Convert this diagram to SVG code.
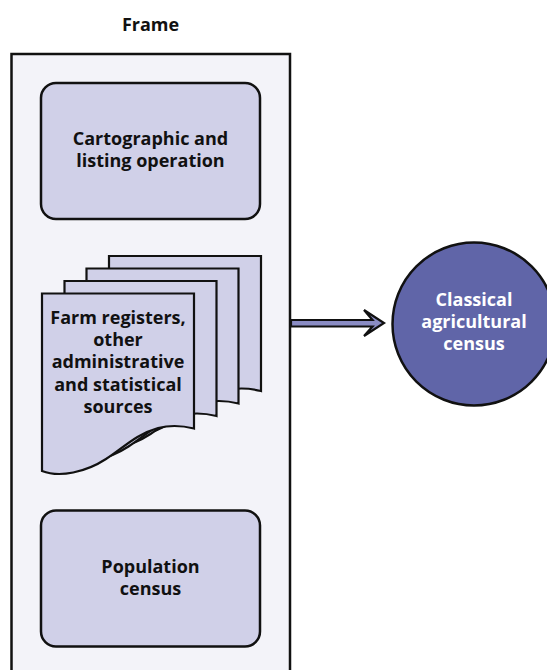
<svg xmlns="http://www.w3.org/2000/svg" width="547" height="670" viewBox="0 0 547 670">
<style>
text{font-family:"Open Sans","Noto Sans","Liberation Sans",sans-serif;font-weight:700;font-size:18px;text-anchor:middle;fill:#111}
.box{fill:#d0d0e8;stroke:#111;stroke-width:2.5}
.doc{fill:#d0d0e8;stroke:#111;stroke-width:2.2;stroke-linejoin:miter}
</style>
<defs>
<path id="page" class="doc" d="M42 293.500H194V428.500C182 425.500 170 425 158 428C136 434 122 449 106 459C86 472 60 478 42 471Z"/>
</defs>
<rect width="547" height="670" fill="#fff"/>
<g id="frame">
<rect x="11.500" y="54" width="278.500" height="630" fill="#f3f3f9" stroke="#111" stroke-width="2.500"/>
<text x="150.500" y="31">Frame</text>
</g>
<g id="cartographic">
<rect class="box" x="41" y="83" width="219" height="136" rx="15"/>
<text x="150.500" y="145">Cartographic and</text>
<text x="150.500" y="167">listing operation</text>
</g>
<g id="registers">
<use href="#page" x="67" y="-37.500"/>
<use href="#page" x="44.500" y="-25"/>
<use href="#page" x="22.500" y="-12.500"/>
<use href="#page"/>
<text x="118" y="324">Farm registers,</text>
<text x="118" y="346">other</text>
<text x="118" y="368">administrative</text>
<text x="118" y="391">and statistical</text>
<text x="118" y="413">sources</text>
</g>
<g id="population">
<rect class="box" x="41" y="510.500" width="219" height="136" rx="15"/>
<text x="150.500" y="573">Population</text>
<text x="150.500" y="595">census</text>
</g>
<g id="census">
<circle cx="474" cy="324" r="81.500" fill="#6065a8" stroke="#111" stroke-width="2.500"/>
<text x="474" y="306" style="fill:#fff">Classical</text>
<text x="474" y="328" style="fill:#fff">agricultural</text>
<text x="474" y="350" style="fill:#fff">census</text>
</g>
<g id="connectors">
<path d="M291 320H372.500L364 310L384 323L364 336L372.500 326.500H291Z" fill="#8a8cc4" stroke="#111" stroke-width="2.200" stroke-linejoin="miter"/>
</g>
</svg>
